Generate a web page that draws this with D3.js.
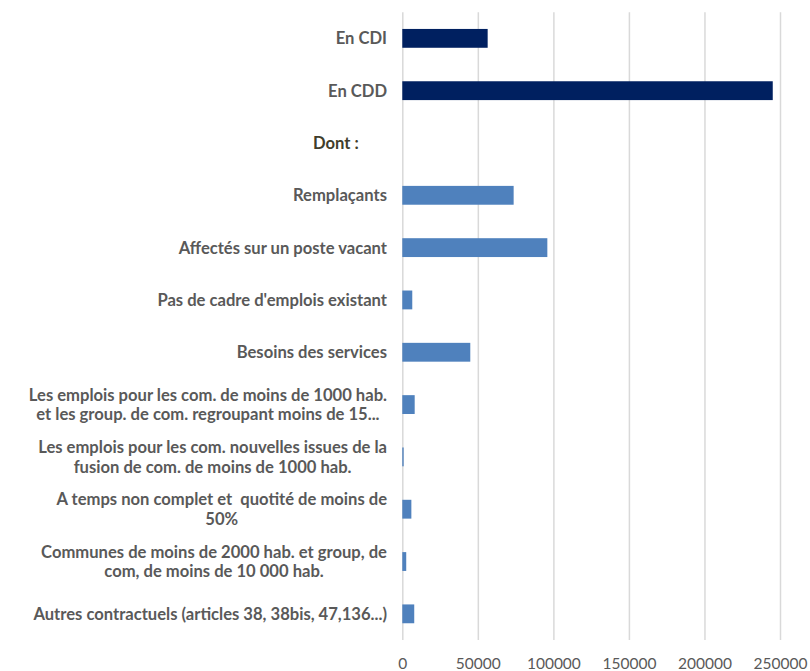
<!DOCTYPE html>
<html><head><meta charset="utf-8">
<script src="https://cdn.jsdelivr.net/npm/d3@7"></script>
<style>body{margin:0;background:#fff}svg{display:block}</style>
</head><body>
<script>
const categories = [
  ["En CDI"],
  ["En CDD"],
  ["Dont :\u00a0\u00a0\u00a0\u00a0\u00a0\u00a0\u00a0"],
  ["Remplaçants"],
  ["Affectés sur un poste vacant"],
  ["Pas de cadre d'emplois existant"],
  ["Besoins des services"],
  ["Les emplois pour les com. de moins de 1000 hab.", "et les group. de com. regroupant moins de 15..."],
  ["Les emplois pour les com. nouvelles issues de la", "fusion de com. de moins de 1000 hab."],
  ["A temps non complet et\u00a0 quotité de moins de", "50%"],
  ["Communes de moins de 2000 hab. et group, de", "com, de moins de 10 000 hab."],
  ["Autres contractuels (articles 38, 38bis, 47,136...)"]
];
const values = [56500, 245200, null, 73700, 96000, 6600, 45000, 8200, 900, 6000, 2600, 7900];
const barColors = ["#002060", "#002060", null, "#4f81bd", "#4f81bd", "#4f81bd", "#4f81bd", "#4f81bd", "#4f81bd", "#4f81bd", "#4f81bd", "#4f81bd"];
const xTicks = [0, 50000, 100000, 150000, 200000, 250000];

const W = 810, H = 671;
const svg = d3.select("body").append("svg").attr("width", W).attr("height", H);
const keys = categories.map((c, i) => i);
const x = d3.scaleLinear().domain([0, 250000]).range([402.3, 780]);
const y = d3.scaleBand().domain(keys).range([12.2, 640]).paddingInner(0.64).paddingOuter(0.32);

// gridlines
const xAxis = d3.axisBottom(x).tickValues(xTicks).tickSize(-(640 - 12.2)).tickFormat(d3.format("d"));
const gx = svg.append("g").attr("transform", "translate(0,640)").call(xAxis);
gx.select(".domain").remove();
gx.selectAll(".tick line").attr("stroke", "#d9d9d9").attr("stroke-width", 1.5);
gx.selectAll(".tick text").attr("fill", "#595959").attr("font-family", "Lato, 'Open Sans', sans-serif")
  .attr("font-size", 15.5).attr("dy", 0).attr("y", 29);

// bars
svg.append("g").selectAll("rect").data(keys.filter(i => values[i] != null)).join("rect")
  .attr("x", x(0)).attr("y", i => y(i)).attr("height", y.bandwidth())
  .attr("width", i => Math.max(0.8, x(values[i]) - x(0)))
  .attr("fill", i => barColors[i]);

// labels
const lg = svg.append("g").attr("font-family", "Lato, 'Open Sans', sans-serif").attr("font-weight", "bold").attr("font-size", 16.6);
const rightEdge = 387;
keys.forEach(i => {
  const lines = categories[i];
  const cy = y(i) + y.bandwidth() / 2;
  const color = i === 2 ? "#403d2a" : "#595959";
  const g = lg.append("g");
  const texts = lines.map((t, j) => g.append("text").text(t).attr("fill", color)
    .attr("dominant-baseline", "central")
    .attr("y", cy + (j - (lines.length - 1) / 2) * 19.5));
  const widths = texts.map(t => t.node().getComputedTextLength());
  const maxW = d3.max(widths);
  const cx = rightEdge - maxW / 2;
  texts.forEach(t => t.attr("x", cx).attr("text-anchor", "middle"));
});
</script>
</body></html>
